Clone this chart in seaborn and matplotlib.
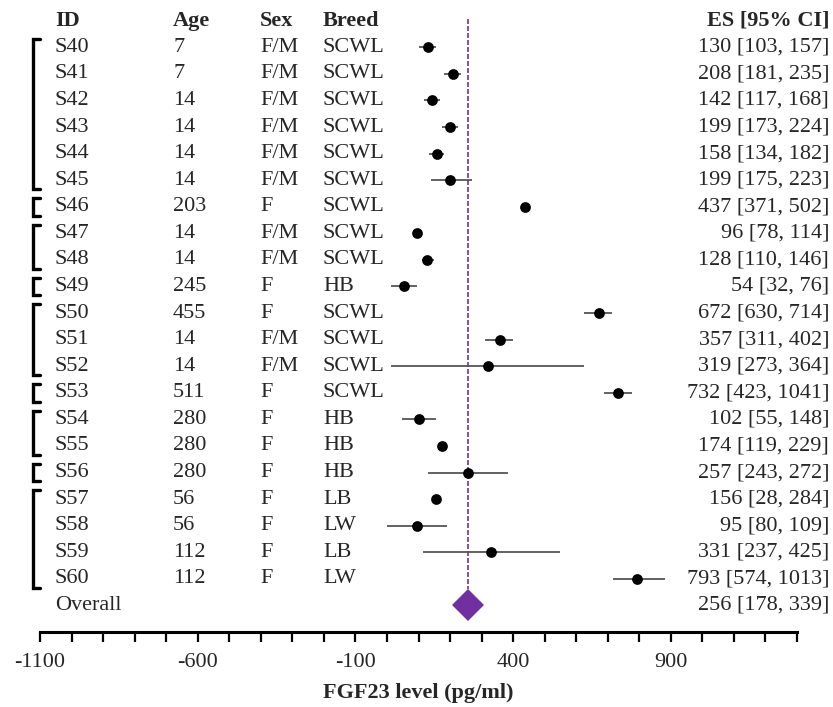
import numpy as np
import pandas as pd
import matplotlib
matplotlib.use('Agg')
import matplotlib.pyplot as plt
import seaborn as sns

# Data
ids = ['S40', 'S41', 'S42', 'S43', 'S44', 'S45', 'S46', 'S47', 'S48', 'S49', 'S50',
       'S51', 'S52', 'S53', 'S54', 'S55', 'S56', 'S57', 'S58', 'S59', 'S60']
ages = ['7', '7', '14', '14', '14', '14', '203', '14', '14', '245', '455',
        '14', '14', '511', '280', '280', '280', '56', '56', '112', '112']
sexes = ['F/M', 'F/M', 'F/M', 'F/M', 'F/M', 'F/M', 'F', 'F/M', 'F/M', 'F', 'F',
         'F/M', 'F/M', 'F', 'F', 'F', 'F', 'F', 'F', 'F', 'F']
breeds = ['SCWL', 'SCWL', 'SCWL', 'SCWL', 'SCWL', 'SCWL', 'SCWL', 'SCWL', 'SCWL', 'HB', 'SCWL',
          'SCWL', 'SCWL', 'SCWL', 'HB', 'HB', 'HB', 'LB', 'LW', 'LB', 'LW']
es = [130, 208, 142, 199, 158, 199, 437, 96, 128, 54, 672,
      357, 319, 732, 102, 174, 257, 156, 95, 331, 793]
# whisker ends as drawn in the figure
ci_lo = [103, 181, 117, 173, 134, 140, 430, 90, 111, 13, 624,
         312, 13, 687, 48, 168, 129, 150, -1, 113, 717]
ci_hi = [157, 235, 168, 224, 182, 269, 444, 102, 148, 96, 714,
         401, 626, 776, 154, 180, 385, 162, 190, 550, 880]
es_text = ['130 [103, 157]', '208 [181, 235]', '142 [117, 168]', '199 [173, 224]',
           '158 [134, 182]', '199 [175, 223]', '437 [371, 502]', '96 [78, 114]',
           '128 [110, 146]', '54 [32, 76]', '672 [630, 714]', '357 [311, 402]',
           '319 [273, 364]', '732 [423, 1041]', '102 [55, 148]', '174 [119, 229]',
           '257 [243, 272]', '156 [28, 284]', '95 [80, 109]', '331 [237, 425]',
           '793 [574, 1013]']
group_sizes = [6, 1, 2, 1, 3, 1, 2, 1, 4]
overall_es = 256
overall_text = '256 [178, 339]'
headers = ['ID', 'Age', 'Sex', 'Breed']

df = pd.DataFrame({'id': ids, 'age': ages, 'sex': sexes, 'breed': breeds,
                   'es': es, 'lo': ci_lo, 'hi': ci_hi, 'label': es_text})
df['row'] = np.arange(len(df))

sns.set_theme(style='white')
plt.rcParams['font.family'] = ['Liberation Serif', 'DejaVu Serif']
plt.rcParams['axes.unicode_minus'] = False
fs = 16

fig = plt.figure(figsize=(8.33, 7.07), dpi=100)
ax = fig.add_axes([40 / 833, 75 / 707, 757 / 833, 632 / 707])

# confidence intervals and point estimates
ax.hlines(df['row'], df['lo'], df['hi'], color='#555555', linewidth=1.3, zorder=2)
sns.scatterplot(data=df, x='es', y='row', color='black', s=60, edgecolor='black',
                linewidth=0, zorder=3, ax=ax, legend=False)

# overall estimate: reference line and diamond
n = len(df)
ax.vlines(overall_es, -1.05, n - 0.6, color='#7030A0', linewidth=1.2,
          linestyles=(0, (3, 1.2)), zorder=1)
ax.plot([overall_es], [n], marker='D', markersize=16.5, color='#7030A0',
        markeredgewidth=0, zorder=3)

ax.set_xlim(-1100, 1300)
ax.set_ylim(n + 1, -1.78)
ax.set_xticks(np.arange(-1100, 1301, 500))
ax.set_xticks(np.arange(-1100, 1301, 100), minor=True)
ax.set_yticks([])
ax.set_xlabel('FGF23 level (pg/ml)', fontsize=fs, fontweight='bold', labelpad=8)
ax.set_ylabel('')
ax.tick_params(axis='x', which='major', direction='out', length=7, width=1.6,
               labelsize=fs, pad=8, color='black', bottom=True)
ax.tick_params(axis='x', which='minor', direction='out', length=7, width=1.6,
               color='black', bottom=True)
for side in ['top', 'right', 'left']:
    ax.spines[side].set_visible(False)
ax.spines['bottom'].set_linewidth(2.2)
ax.spines['bottom'].set_color('black')

# table columns
tr = ax.get_yaxis_transform()
col_x = [0.0198, 0.1757, 0.2906, 0.3738]
es_x = 1.0423
for cx, h in zip(col_x, headers):
    ax.text(cx, -1, h, transform=tr, fontsize=fs, fontweight='bold',
            va='center', ha='left', clip_on=False)
ax.text(es_x, -1, 'ES [95% CI]', transform=tr, fontsize=fs, fontweight='bold',
        va='center', ha='right', clip_on=False)
for _, r in df.iterrows():
    for cx, val in zip(col_x, [r['id'], r['age'], r['sex'], r['breed']]):
        ax.text(cx, r['row'], val, transform=tr, fontsize=fs, va='center',
                ha='left', clip_on=False)
    ax.text(es_x, r['row'], r['label'], transform=tr, fontsize=fs, va='center',
            ha='right', clip_on=False)
ax.text(col_x[0], n, 'Overall', transform=tr, fontsize=fs, va='center', ha='left',
        clip_on=False)
ax.text(es_x, n, overall_text, transform=tr, fontsize=fs, va='center', ha='right',
        clip_on=False)

# group brackets on the left
start = 0
bx0, bx1 = -0.009, 0.0
for g in group_sizes:
    top = start - 0.33
    bot = start + g - 1 + 0.33
    ax.plot([bx1, bx0, bx0, bx1], [top, top, bot, bot], transform=tr, color='black',
            linewidth=2.4, solid_joinstyle='miter', clip_on=False)
    start += g

fig.savefig('out.png', dpi=100)
